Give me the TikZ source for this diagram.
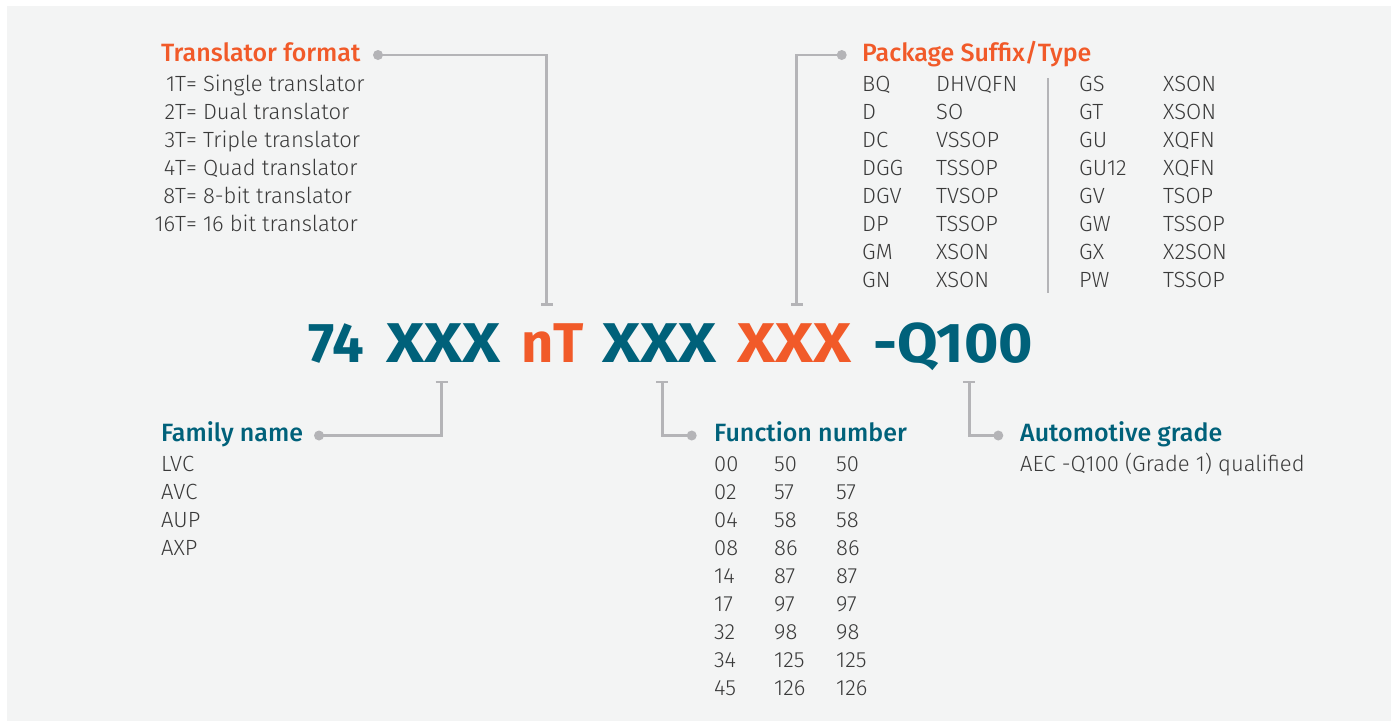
\documentclass[tikz,border=0pt]{standalone}
\usepackage{fontspec}
\setmainfont{Fira Sans Light}[BoldFont={Fira Sans Medium}]
\newfontfamily\codefont{Fira Sans Bold}
\usetikzlibrary{arrows.meta}
\definecolor{pnteal}{HTML}{00617A}
\definecolor{pnorange}{HTML}{F15A29}
\definecolor{pntext}{HTML}{3A3A3A}
\definecolor{pnrule}{HTML}{B4B4B7}
\definecolor{pnbg}{HTML}{F3F4F4}
\newcommand{\wideX}[1]{\scalebox{1.17}[1]{#1}}

\begin{document}
\begin{tikzpicture}[x=1pt,y=-1pt,
  body/.style={anchor=base west, inner sep=0pt, text=pntext, font=\fontsize{22}{22}\selectfont},
  head/.style={anchor=base west, inner sep=0pt, font=\fontsize{25}{25}\selectfont\bfseries},
  code/.style={anchor=base west, inner sep=0pt, font=\fontsize{56}{56}\selectfont\codefont},
  dot/.style={circle, fill=pnrule, inner sep=0pt, minimum size=10pt},
  lead/.style={draw=pnrule, line width=2.5pt, -{Bar[width=12pt,line width=2.5pt]}}
]
\useasboundingbox (0,0) rectangle (1391,721);
\fill[white] (0,0) rectangle (1391,721);
\fill[pnbg] (7,6) rectangle (1391,721);

% part number
\node[code, text=pnteal]   (c74)  at (308,362.7) {74};
\node[code, text=pnteal]   (cfam) at (386,362.7) {\wideX{XXX}};
\node[code, text=pnorange] (ctr)  at (521,362.7) {nT};
\node[code, text=pnteal]   (cfn)  at (602,362.7) {\wideX{XXX}};
\node[code, text=pnorange] (cpk)  at (737,362.7) {\wideX{XXX}};
\node[code, text=pnteal]   (cq)   at (873,362.7) {\scalebox{1.05}[1]{-Q100}};

% headings
\node[head, text=pnorange] (hTr) at (161,61) {Translator format};
\node[head, text=pnorange] (hPk) at (862,61) {Package Suffix/Type};
\node[head, text=pnteal]   (hFa) at (161,441) {Family name};
\node[head, text=pnteal]   (hFn) at (714,441) {Function number};
\node[head, text=pnteal]   (hAu) at (1020,441) {Automotive grade};

% leaders
\node[dot] (dTr) at (378,55) {};
\node[dot] (dPk) at (841.7,55) {};
\node[dot] (dFa) at (319,435.5) {};
\node[dot] (dFn) at (691.7,435.5) {};
\node[dot] (dAu) at (998.3,435.5) {};
\coordinate (tTr) at (546.7,305.7);
\coordinate (tPk) at (796.7,305.7);
\coordinate (tFa) at (441.5,380.7);
\coordinate (tFn) at (662.3,380.7);
\coordinate (tAu) at (969.3,380.7);
\draw[lead] (dTr.center) -| (tTr);
\draw[lead] (dPk.center) -| (tPk);
\draw[lead] (dFa.center) -| (tFa);
\draw[lead] (dFn.center) -| (tFn);
\draw[lead] (dAu.center) -| (tAu);

% translator format
\foreach \n/\t [count=\i] in {1/Single translator, 2/Dual translator, 3/Triple translator,
    4/Quad translator, 8/8-bit translator, 16/16 bit translator}
  \node[body] (tr\i) at (175,{63+28*\i}) {\llap{\n}T= \t};

% package suffix/type
\foreach \a/\b [count=\i] in {BQ/DHVQFN, D/SO, DC/VSSOP, DGG/TSSOP, DGV/TVSOP, DP/TSSOP, GM/XSON, GN/XSON} {
  \node[body] (pa\i) at (862,{63+28*\i}) {\a};
  \node[body] (pb\i) at (936,{63+28*\i}) {\b};
}
\foreach \a/\b [count=\i] in {GS/XSON, GT/XSON, GU/XQFN, GU12/XQFN, GV/TSOP, GW/TSSOP, GX/X2SON, PW/TSSOP} {
  \node[body] (pc\i) at (1079,{63+28*\i}) {\a};
  \node[body] (pd\i) at (1163,{63+28*\i}) {\b};
}
\coordinate (divtop) at (1047.5,78);
\coordinate (divbot) at (1047.5,293);
\draw[pnrule, line width=2pt] (divtop) -- (divbot);

% family name
\foreach \f [count=\i] in {LVC, AVC, AUP, AXP}
  \node[body] (fa\i) at (161,{443.5+28*\i}) {\f};

% function number
\foreach \a/\b [count=\i] in {00/50, 02/57, 04/58, 08/86, 14/87, 17/97, 32/98, 34/125, 45/126} {
  \node[body] (fn\i) at (714,{443.5+28*\i}) {\a};
  \node[body] (fb\i) at (774,{443.5+28*\i}) {\b};
  \node[body] (fc\i) at (836,{443.5+28*\i}) {\b};
}

% automotive grade
\node[body] (au1) at (1020,471.5) {AEC -Q100 (Grade 1) qualified};
\end{tikzpicture}
\end{document}
